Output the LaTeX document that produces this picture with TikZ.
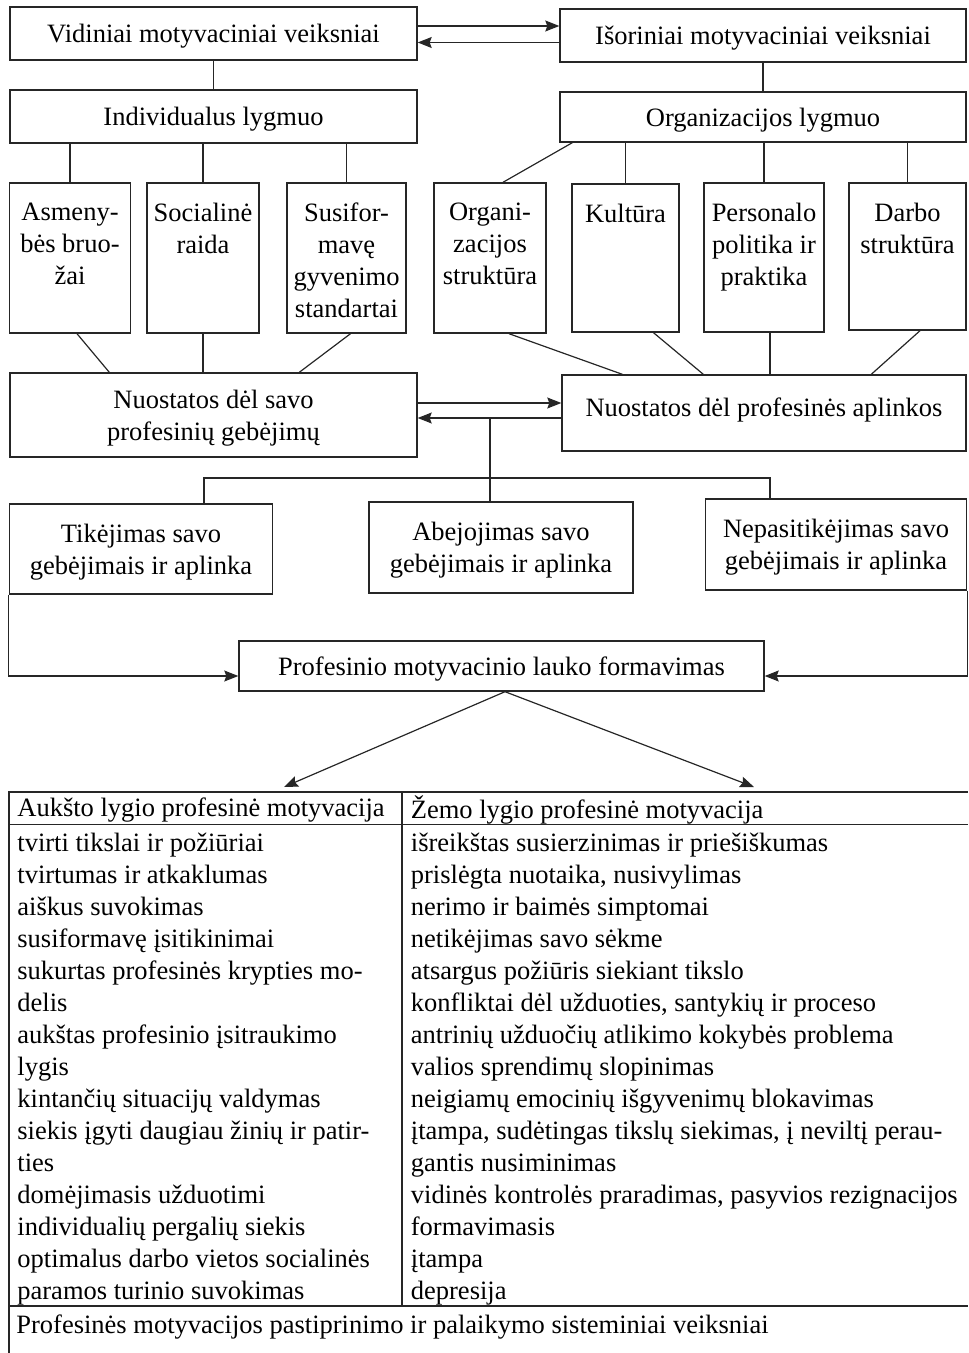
\documentclass[tikz,border=0pt]{standalone}
\usepackage{fontspec}
\setmainfont{Liberation Serif}
\usetikzlibrary{calc,arrows.meta}
\tikzset {>={Stealth[length=7pt,width=5.5pt,inset=1pt]}}
\tikzset{
  box/.style={draw=black!85,line width=0.7pt,align=center,inner sep=2pt,text depth=0pt},
  tallbox/.style={box,minimum height=75pt},
  toptext/.style={anchor=north,align=center,inner sep=0pt,yshift=-10pt},
  link/.style={draw=black!85,line width=0.6pt},
  every node/.style={font=\fontsize{13.25}{16}\selectfont}
}

\begin{document}
\begin{tikzpicture}[x=0.5pt,y=-0.5pt]
\useasboundingbox (0,0) rectangle (968,1353);

% Motivation factors and levels
\node[box,minimum width=203.5pt,minimum height=26.5pt] (vid) at (213.5,33.5) {Vidiniai motyvaciniai veiksniai};
\node[box,minimum width=203pt,minimum height=26.5pt] (isor) at (763,35.5) {Išoriniai motyvaciniai veiksniai};
\node[box,minimum width=203.5pt,minimum height=26.5pt] (indiv) at (213.5,116.5) {Individualus lygmuo};
\node[box,minimum width=203pt,minimum height=25pt] (org) at (763,117) {Organizacijos lygmuo};

% Tall factor boxes
\node[tallbox,minimum width=60.5pt,label={[toptext]north:Asmeny-\\bės bruo-\\žai}] (asm) at (70,258) {};
\node[tallbox,minimum width=56pt,label={[toptext]north:Socialinė\\raida}] (soc) at (203,258) {};
\node[tallbox,minimum width=59.5pt,label={[toptext]north:Susifor-\\mavę\\gyvenimo\\standartai}] (sus) at (346.5,258) {};
\node[tallbox,minimum width=56pt,label={[toptext]north:Organi-\\zacijos\\struktūra}] (orgstr) at (490,258) {};
\node[tallbox,minimum width=53.5pt,minimum height=74pt,label={[toptext]north:Kultūra}] (kult) at (625.5,258) {};
\node[tallbox,minimum width=60pt,minimum height=74.5pt,label={[toptext]north:Personalo\\politika ir\\praktika}] (pers) at (764,257.5) {};
\node[tallbox,minimum width=58.5pt,minimum height=73.5pt,label={[toptext]north:Darbo\\struktūra}] (darbo) at (907.5,256.5) {};

% Attitudes
\node[box,minimum width=203.5pt,minimum height=42pt] (nsav) at (213.5,415) {Nuostatos dėl savo\\profesinių gebėjimų};
\node[box,minimum width=202pt,minimum height=38pt,text depth=6pt] (napl) at (764,413) {Nuostatos dėl profesinės aplinkos};

% Outcomes
\node[box,minimum width=131.5pt,minimum height=45pt] (tik) at (141,549) {Tikėjimas savo\\gebėjimais ir aplinka};
\node[box,minimum width=132pt,minimum height=45.5pt] (abe) at (501,547.5) {Abejojimas savo\\gebėjimais ir aplinka};
\node[box,minimum width=130.5pt,minimum height=45.5pt] (nep) at (836,544.5) {Nepasitikėjimas savo\\gebėjimais ir aplinka};
\node[box,minimum width=262.5pt,minimum height=25pt] (prof) at (501.5,666) {Profesinio motyvacinio lauko formavimas};

% Top arrows and links
\coordinate (t1) at (0,26);
\coordinate (t2) at (0,42.5);
\draw[link,->] (vid.east |- t1) -- (isor.west |- t1);
\draw[link,->] (isor.west |- t2) -- (vid.east |- t2);
\draw[link] (vid) -- (indiv);
\draw[link] (isor) -- (org);
\draw[link] (asm.north) -- (asm.north |- indiv.south);
\draw[link] (soc.north) -- (soc.north |- indiv.south);
\draw[link] (sus.north) -- (sus.north |- indiv.south);
\draw[link] ($(org.south west)+(13,0)$) -- ($(orgstr.north)+(13,0)$);
\draw[link] (kult.north) -- (kult.north |- org.south);
\draw[link] (pers.north) -- (pers.north |- org.south);
\draw[link] (darbo.north) -- (darbo.north |- org.south);

% Links down to attitudes
\draw[link] ($(asm.south)+(7,0)$) -- ($(nsav.north west)+(100,0)$);
\draw[link] (soc.south) -- (soc.south |- nsav.north);
\draw[link] ($(sus.south)+(4,0)$) -- ($(nsav.north west)+(290,0)$);
\draw[link] ($(orgstr.south)+(19,0)$) -- ($(napl.north west)+(61,0)$);
\draw[link] ($(kult.south)+(28,0)$) -- ($(napl.north west)+(142,0)$);
\coordinate (p1) at ($(pers.south)+(6,0)$);
\draw[link] (p1) -- (p1 |- napl.north);
\draw[link] ($(darbo.south)+(12.5,0)$) -- ($(napl.north west)+(310,0)$);

% Arrows between attitudes
\coordinate (m1) at (0,403);
\coordinate (m2) at (490,418);
\draw[link,->] (nsav.east |- m1) -- (napl.west |- m1);
\draw[link,->] (napl.west |- m2) -- (nsav.east |- m2);
\draw[link] (m2) -- (m2 |- abe.north);
\coordinate (busl) at (204,478);
\coordinate (busr) at (770,478);
\draw[link] (busl |- tik.north) -- (busl) -- (busr) -- (busr |- nep.north);

% Into the field and out
\draw[link,->] (tik.south west) |- ($(prof.west)+(0,10)$);
\draw[link,->] (nep.south east) |- ($(prof.east)+(0,10)$);
\coordinate (hi) at (284,787);
\coordinate (lo) at (754,787);
\draw[link,->] ($(prof.south)+(3.5,0)$) -- (hi);
\draw[link,->] ($(prof.south)+(3.5,0)$) -- (lo);

% Table
\coordinate (tabl) at (9,792);
\coordinate (tabr) at (968,792);
\draw[link] (9,1353) -- (tabl) -- (tabr);
\draw[link] (9,824.5) -- (968,824.5);
\draw[link] (402,792) -- (402,1306);
\draw[link] (9,1306) -- (968,1306);

\node[anchor=west,inner sep=0pt] (hihead) at (17,810) {Aukšto lygio profesinė motyvacija};
\node[anchor=west,inner sep=0pt] (lohead) at (410.5,810) {Žemo lygio profesinė motyvacija};
\node[anchor=north west,inner sep=0pt,align=left] (hilist) at (17,833) {tvirti tikslai ir požiūriai\\tvirtumas ir atkaklumas\\aiškus suvokimas\\susiformavę įsitikinimai\\sukurtas profesinės krypties mo-\\delis\\aukštas profesinio įsitraukimo\\lygis\\kintančių situacijų valdymas\\siekis įgyti daugiau žinių ir patir-\\ties\\domėjimasis užduotimi\\individualių pergalių siekis\\optimalus darbo vietos socialinės\\paramos turinio suvokimas};
\node[anchor=north west,inner sep=0pt,align=left] (lolist) at (410.5,833) {išreikštas susierzinimas ir priešiškumas\\prislėgta nuotaika, nusivylimas\\nerimo ir baimės simptomai\\netikėjimas savo sėkme\\atsargus požiūris siekiant tikslo\\konfliktai dėl užduoties, santykių ir proceso\\antrinių užduočių atlikimo kokybės problema\\valios sprendimų slopinimas\\neigiamų emocinių išgyvenimų blokavimas\\įtampa, sudėtingas tikslų siekimas, į neviltį perau-\\gantis nusiminimas\\vidinės kontrolės praradimas, pasyvios rezignacijos\\formavimasis\\įtampa\\depresija};
\node[anchor=west,inner sep=0pt] (system) at (16,1327) {Profesinės motyvacijos pastiprinimo ir palaikymo sisteminiai veiksniai};

\end{tikzpicture}
\end{document}
